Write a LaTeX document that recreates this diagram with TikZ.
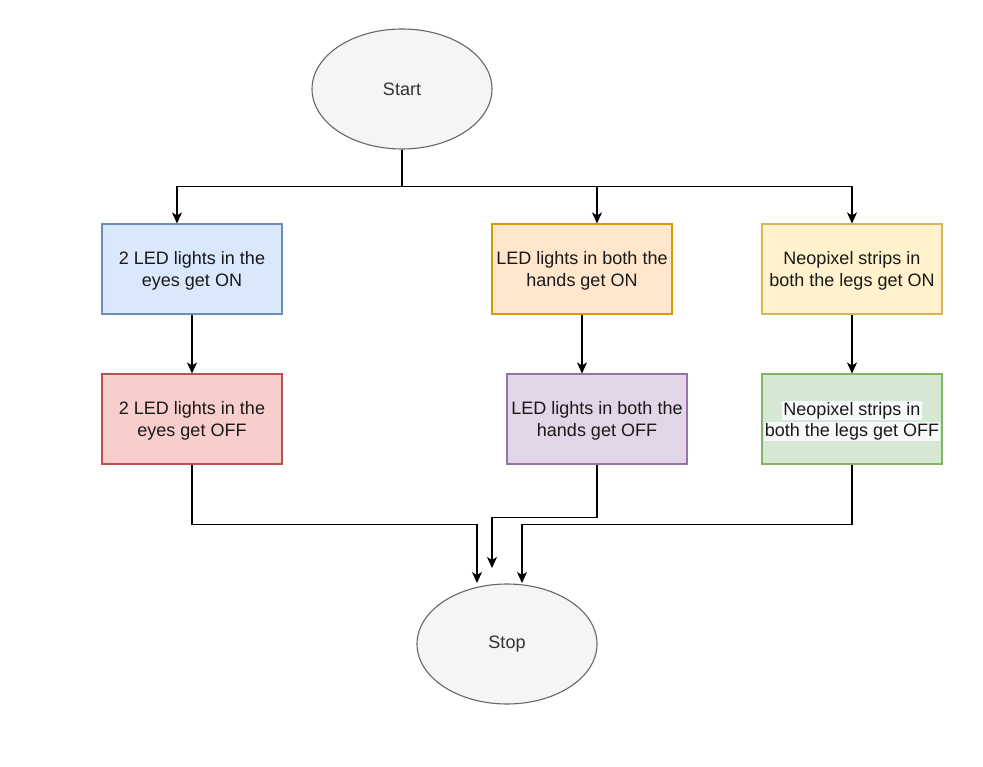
\documentclass[tikz,border=0pt]{standalone}
\usepackage{fontspec}
\setmainfont{Liberation Sans}
\usetikzlibrary{positioning,shapes.geometric,arrows.meta}
\definecolor{eyesOn}{HTML}{DAE8FC}  \definecolor{eyesOnLine}{HTML}{6C8EBF}
\definecolor{handsOn}{HTML}{FFE6CC} \definecolor{handsOnLine}{HTML}{D79B00}
\definecolor{legsOn}{HTML}{FFF2CC}  \definecolor{legsOnLine}{HTML}{D6B656}
\definecolor{eyesOff}{HTML}{F8CECC} \definecolor{eyesOffLine}{HTML}{B85450}
\definecolor{handsOff}{HTML}{E1D5E7} \definecolor{handsOffLine}{HTML}{9673A6}
\definecolor{legsOff}{HTML}{D5E8D4} \definecolor{legsOffLine}{HTML}{82B366}
\definecolor{termFill}{HTML}{F5F5F5} \definecolor{termLine}{HTML}{666666}
\definecolor{termText}{HTML}{333333} \definecolor{markBg}{HTML}{F8F9FA}
\newcommand{\hl}[1]{{\fboxsep=1pt\colorbox{markBg}{#1}}}
\begin{document}
\begin{tikzpicture}[x=1pt,y=-1pt]
	\tikzset{StepBox/.style =
		{shape = rectangle,
		minimum width = 180pt,
		minimum height = 90pt,
		inner sep = 0pt,
		line width = 1.1pt,
		align = center,
		text = black!90,
		text depth = -2pt,
		font = \fontsize{18}{22}\selectfont,
		draw},
	Terminal/.style =
		{shape = ellipse,
		minimum width = 180pt,
		minimum height = 120pt,
		line width = 1.1pt,
		fill = termFill,
		draw = termLine,
		text = termText,
		font = \fontsize{18}{22}\selectfont},
	Flow/.style = {-{Stealth[length=11pt,width=10pt,inset=3pt]}, line width=1.2pt}}
	\useasboundingbox (0,0) rectangle (983,767);

	\node[Terminal] (Start) at (402,89) {Start};
	\node[StepBox, fill=eyesOn, draw=eyesOnLine] (EyesOn) at (192,269) {2 LED lights in the\\eyes get ON};
	\node[StepBox, fill=handsOn, draw=handsOnLine] (HandsOn) at (582,269) {LED lights in both the\\hands get ON};
	\node[StepBox, fill=legsOn, draw=legsOnLine] (LegsOn) at (852,269) {Neopixel strips in\\both the legs get ON};
	\node[StepBox, fill=eyesOff, draw=eyesOffLine, below=58.9pt of EyesOn] (EyesOff) {2 LED lights in the\\eyes get OFF};
	\node[StepBox, fill=handsOff, draw=handsOffLine, below=58.9pt of HandsOn, xshift=15pt] (HandsOff) {LED lights in both the\\hands get OFF};
	\node[StepBox, fill=legsOff, draw=legsOffLine, below=58.9pt of LegsOn] (LegsOff) {\hl{Neopixel strips in}\\[-1pt]\hl{both the legs get OFF}};
	\node[Terminal] (Stop) at (507,644) {Stop};
	% free ends above Stop
	\coordinate (inEyes) at (477,583);
	\coordinate (inHands) at (492,568);
	\coordinate (inLegs) at (522,583);

	\draw[Flow] (Start.south) -- ++(0,37) -| ([xshift=-15pt]EyesOn.north);
	\draw[Flow] (Start.south) -- ++(0,37) -| ([xshift=15pt]HandsOn.north);
	\draw[Flow] (Start.south) -- ++(0,37) -| (LegsOn.north);
	\draw[Flow] (EyesOn) -- (EyesOff);
	\draw[Flow] (HandsOn.south) -- ([xshift=-15pt]HandsOff.north);
	\draw[Flow] (LegsOn) -- (LegsOff);
	\draw[Flow] (EyesOff.south) -- ++(0,60) -| (inEyes);
	\draw[Flow] (HandsOff.south) -- ++(0,53) -| (inHands);
	\draw[Flow] (LegsOff.south) -- ++(0,60) -| (inLegs);
\end{tikzpicture}
\end{document}
